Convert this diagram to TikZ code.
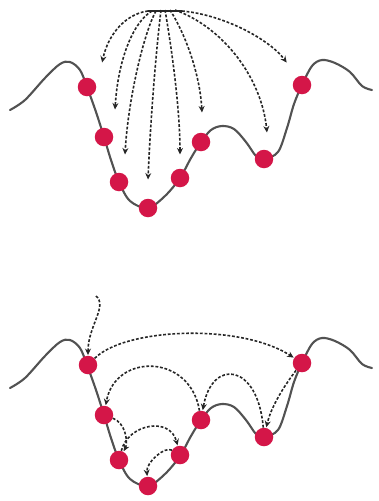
\documentclass[tikz,border=0pt]{standalone}
\usetikzlibrary{arrows.meta}
\definecolor{ballred}{RGB}{212,22,72}
\begin{document}
\begin{tikzpicture}[x=1pt,y=-1pt,
  land/.style={draw=black!68, line width=2.1pt, line join=round, line cap=round},
  ball/.style={circle, fill=ballred, minimum size=18.5pt, inner sep=0pt},
  hop/.style={draw=black!85, line width=1.6pt, dash pattern=on 2.8pt off 1.8pt,
              -{Stealth[length=6.5pt,width=6pt]}, shorten >=0.5pt}]
\useasboundingbox (0,0) rectangle (379,501);
\newcommand{\landcurve}{%
  \draw[land] plot[smooth, tension=0.55] coordinates {
    (10,110) (25,100) (45,78) (60,64) (70,62) (80,70) (87,87) (96,112)
    (104,137) (111,160) (119,182) (130,201) (148,208) (165,196) (180,178)
    (191,158) (201,142) (211,130) (222,126) (234,129) (246,142) (256,156)
    (264,159) (278,152) (287,128) (294,104) (302,85) (312,66) (322,60)
    (335,63) (350,72) (362,86) (372,90)};}
% ---------------- top panel ----------------
\landcurve
\foreach \n/\p in {a1/{(87,87)},a2/{(104,137)},a3/{(119,182)},a4/{(148,208)},
                   a5/{(180,178)},a6/{(201,142)},a7/{(264,159)},a8/{(302,85)}}
  {\node[ball] (\n) at \p {};}
\coordinate (s1) at (148,11); \coordinate (e1) at (102,63);
\coordinate (s2) at (152,11); \coordinate (e2) at (115,110);
\coordinate (s3) at (156,11); \coordinate (e3) at (125,155);
\coordinate (s4) at (161,10); \coordinate (e4) at (148,180);
\coordinate (s5) at (165,10); \coordinate (e5) at (180,155);
\coordinate (s6) at (170,10); \coordinate (e6) at (202,113);
\coordinate (s7) at (175,10); \coordinate (e7) at (267,133);
\coordinate (s8) at (182,11); \coordinate (e8) at (287,63);
\draw[hop] (s1) .. controls (125,14) and (108,35) .. (e1);
\draw[hop] (s2) .. controls (133,22) and (118,60) .. (e2);
\draw[hop] (s3) .. controls (144,32) and (128,100) .. (e3);
\draw[hop] (s4) .. controls (155,60) and (150,130) .. (e4);
\draw[hop] (s5) .. controls (172,50) and (180,110) .. (e5);
\draw[hop] (s6) .. controls (186,35) and (200,75) .. (e6);
\draw[hop] (s7) .. controls (225,28) and (262,80) .. (e7);
\draw[hop] (s8) .. controls (225,15) and (270,40) .. (e8);
\draw[draw=black!85, line width=2.4pt] (s1) -- (s8);
% ---------------- bottom panel ----------------
\begin{scope}[yshift=-278pt]
\landcurve
\foreach \n/\p in {b1/{(88,87)},b2/{(104,137)},b3/{(119,182)},b4/{(148,208)},
                   b5/{(180,177)},b6/{(201,142)},b7/{(264,159)},b8/{(302,85)}}
  {\node[ball] (\n) at \p {};}
\coordinate (w0) at (96,18);
\draw[hop] (w0) .. controls (108,28) and (88,48) .. (b1);
\draw[hop] (b1) .. controls (125,50) and (240,45) .. (b8);
\draw[hop] (b8) .. controls (290,100) and (272,125) .. (b7);
\draw[hop] (b7) .. controls (258,85) and (212,80) .. (b6);
\draw[hop] (b6) .. controls (190,75) and (115,75) .. (b2);
\draw[hop] (b2) .. controls (126,145) and (128,165) .. (b3);
\draw[hop] (b3) .. controls (128,146) and (170,138) .. (b5);
\draw[hop] (b5) .. controls (165,168) and (146,184) .. (b4);
\end{scope}
\end{tikzpicture}
\end{document}
